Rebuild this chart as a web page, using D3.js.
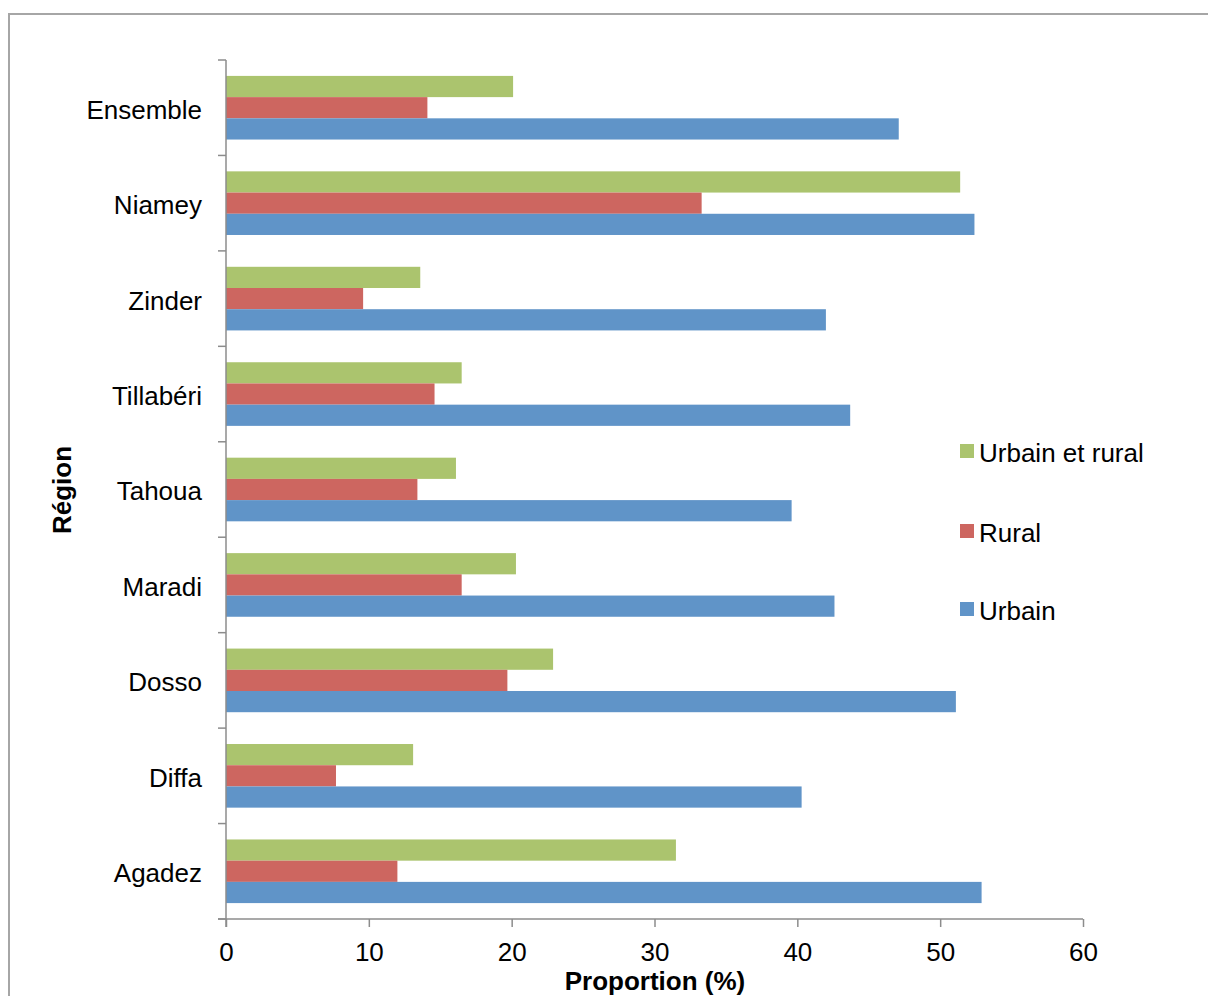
<!DOCTYPE html>
<html>
<head>
<meta charset="utf-8">
<script src="https://cdn.jsdelivr.net/npm/d3@7"></script>
<style>
  html, body { margin: 0; padding: 0; background: #fff; }
  svg { display: block; font-family: "Liberation Sans", Arial, sans-serif; }
</style>
</head>
<body>
<svg id="chart" width="1208" height="996"></svg>
<script>
// Categories, top to bottom as displayed
const categories = ["Ensemble", "Niamey", "Zinder", "Tillabéri", "Tahoua", "Maradi", "Dosso", "Diffa", "Agadez"];
const seriesNames = ["Urbain et rural", "Rural", "Urbain"];
const urbainRural = [20.1, 51.4, 13.6, 16.5, 16.1, 20.3, 22.9, 13.1, 31.5];
const rural       = [14.1, 33.3, 9.6, 14.6, 13.4, 16.5, 19.7, 7.7, 12.0];
const urbain      = [47.1, 52.4, 42.0, 43.7, 39.6, 42.6, 51.1, 40.3, 52.9];
const xTicks = [0, 10, 20, 30, 40, 50, 60];
const colors = ["#abc46e", "#cd6660", "#6094c8"];
const seriesValues = [urbainRural, rural, urbain];

(function () {
const svg = d3.select("#chart");
const axisColor = "#8c8c8c";

// outer frame
svg.append("rect")
  .attr("x", 9).attr("y", 14).attr("width", 1220).attr("height", 1000)
  .attr("fill", "none").attr("stroke", "#a6a6a6").attr("stroke-width", 2);

const pLeft = 226, pRight = 1083, pTop = 60, pBottom = 919;

const x = d3.scaleLinear().domain([0, 60]).range([pLeft, pRight]);
const y0 = d3.scaleBand().domain(categories).range([pTop, pBottom]).padding(0);
const y1 = d3.scaleBand().domain(seriesNames).range([0, y0.bandwidth()])
  .paddingInner(0).paddingOuter(0.75);

// bars
const rows = categories.map((c, i) => ({cat: c, vals: seriesNames.map((s, j) => ({s, v: seriesValues[j][i], color: colors[j]}))}));
const g = svg.append("g");
g.selectAll("g.cat").data(rows).join("g")
  .attr("class", "cat")
  .attr("transform", d => `translate(0,${y0(d.cat)})`)
  .selectAll("rect").data(d => d.vals).join("rect")
  .attr("x", x(0))
  .attr("y", d => y1(d.s))
  .attr("width", d => x(d.v) - x(0))
  .attr("height", y1.bandwidth())
  .attr("fill", d => d.color);

// x axis
const xAxis = svg.append("g").attr("transform", `translate(0,${pBottom})`)
  .call(d3.axisBottom(x).tickValues(xTicks).tickSize(8).tickPadding(16).tickSizeOuter(0));
xAxis.select(".domain").remove();
xAxis.append("line").attr("x1", pLeft - 8).attr("x2", pRight).attr("y1", 0).attr("y2", 0)
  .attr("stroke", axisColor).attr("stroke-width", 1.5);
xAxis.selectAll(".tick line").attr("stroke", axisColor).attr("stroke-width", 1.5);
xAxis.selectAll(".tick text").attr("font-size", 26).attr("fill", "#000")
  .attr("font-family", "'Liberation Sans', Arial, sans-serif");

// y axis
const yAxisG = svg.append("g").attr("transform", `translate(${pLeft},0)`);
yAxisG.append("line").attr("x1", 0).attr("x2", 0).attr("y1", pTop).attr("y2", pBottom + 8)
  .attr("stroke", axisColor).attr("stroke-width", 1.5);
const boundaries = categories.map(c => y0(c)).concat([pBottom]);
yAxisG.selectAll("line.tk").data(boundaries).join("line")
  .attr("class", "tk")
  .attr("x1", -8).attr("x2", 0).attr("y1", d => d).attr("y2", d => d)
  .attr("stroke", axisColor).attr("stroke-width", 1.5);
yAxisG.selectAll("text.lbl").data(categories).join("text")
  .attr("class", "lbl")
  .attr("x", -24)
  .attr("y", d => y0(d) + y0.bandwidth() / 2)
  .attr("dy", "0.42em")
  .attr("text-anchor", "end")
  .attr("font-size", 26)
  .attr("fill", "#000")
  .text(d => d);

// axis titles
svg.append("text").attr("x", 655).attr("y", 990).attr("text-anchor", "middle")
  .attr("font-size", 26).attr("font-weight", "bold").text("Proportion (%)");
svg.append("text").attr("transform", "translate(71,490) rotate(-90)")
  .attr("text-anchor", "middle").attr("font-size", 26).attr("font-weight", "bold").text("Région");

// legend
const legendY = [451, 531, 609];
const legend = svg.append("g");
const li = legend.selectAll("g").data(seriesNames).join("g")
  .attr("transform", (d, i) => `translate(960,${legendY[i]})`);
li.append("rect").attr("x", 0).attr("y", -7).attr("width", 14).attr("height", 14)
  .attr("fill", (d, i) => colors[i]);
li.append("text").attr("x", 19).attr("y", 0).attr("dy", "0.42em")
  .attr("font-size", 26).attr("fill", "#000").text(d => d);
})();
</script>
</body>
</html>
